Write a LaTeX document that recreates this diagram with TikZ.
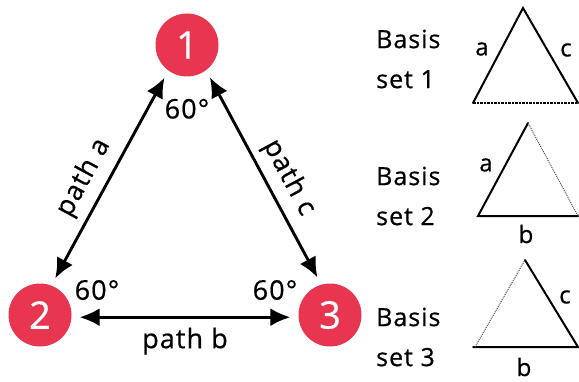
\documentclass[tikz,border=0pt]{standalone}
\usepackage{fontspec}
\setmainfont[LetterSpace=4, FakeBold=0.6]{Open Sans}
\usetikzlibrary{arrows.meta,positioning,calc}
\definecolor{vertexred}{RGB}{232,54,80}

\begin{document}
\begin{tikzpicture}[
  x=1pt, y=1pt,
  vertex/.style={circle, fill=vertexred, text=white, minimum size=63pt, inner sep=0pt, font=\fontsize{38}{38}\selectfont},
  arrow/.style={{Latex[length=20pt,width=18pt]}-{Latex[length=20pt,width=18pt]}, line width=2.9pt, shorten <=8pt, shorten >=8pt},
  anglenote/.style={font=\fontsize{27}{27}\selectfont, inner sep=2pt},
  pathnote/.style={font=\fontsize{27}{27}\selectfont, inner sep=2pt},
  basisnote/.style={font=\fontsize{25}{40}\selectfont, align=left, anchor=west, inner sep=0pt},
  sidenote/.style={font=\fontsize{24}{24}\selectfont, inner sep=1pt},
  side/.style={line width=2pt, line cap=round},
  gap/.style={line width=1pt, densely dotted, black!70}
]
\useasboundingbox (0,0) rectangle (579,381);

% the three states
\node[vertex] (one) at (187,336) {1};
\node[vertex] (two) at (40,66) {2};
\node[vertex] (three) at (330,66) {3};

% angles
\node[anglenote, below=20pt of one] (angOne) {60°};
\node[anglenote] (angTwo) at ($(two)+(57,25)$) {60°};
\node[anglenote] (angThree) at ($(three)+(-55,25)$) {60°};

\draw[arrow] (two.69) -- node[pathnote, sloped, above=6pt, pos=0.45] {path a} (one.234);
\draw[arrow] (one.307) -- node[pathnote, sloped, above=5pt, pos=0.55] {path c} (three.106);
\draw[arrow] (two.-4) -- node[pathnote, below=7pt] {path b} (three.184);

% basis set 1
\node[basisnote] (setOne) at (376,322) {Basis\\set 1};
\coordinate (oneTop) at (523,373);
\coordinate (oneLeft) at (473,278);
\coordinate (oneRight) at (578,278);
\draw[side] (oneLeft) -- (oneTop) -- (oneRight);
\draw[line width=1.4pt, dash pattern=on 2.5pt off 1pt] (oneLeft) -- (oneRight);
\node[sidenote] (aOne) at (482,332) {a};
\node[sidenote] (cOne) at (566,331) {c};

% basis set 2
\node[basisnote] (setTwo) at (376,185) {Basis\\set 2};
\coordinate (twoTop) at (528,258);
\coordinate (twoLeft) at (478,165);
\coordinate (twoRight) at (578,165);
\draw[side] (twoRight) -- (twoLeft) -- (twoTop);
\draw[gap] (twoTop) -- (twoRight);
\node[sidenote] (aTwo) at (486,216) {a};
\node[sidenote] (bTwo) at (526,147) {b};

% basis set 3
\node[basisnote] (setThree) at (376,44) {Basis\\set 3};
\coordinate (threeTop) at (525,121);
\coordinate (threeLeft) at (475,34);
\coordinate (threeRight) at (578,34);
\draw[side] (threeTop) -- (threeRight) -- ([xshift=-2pt]threeLeft);
\draw[gap] (threeLeft) -- (threeTop);
\node[sidenote] (cThree) at (565,84) {c};
\node[sidenote] (bThree) at (524,14) {b};

\end{tikzpicture}
\end{document}
